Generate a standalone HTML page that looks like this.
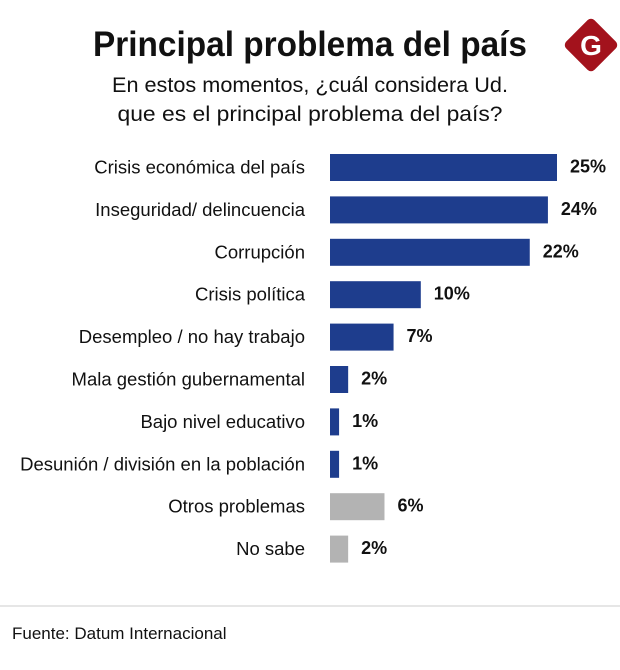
<!DOCTYPE html>
<html><head><meta charset="utf-8">
<style>
html,body{margin:0;padding:0;background:#fff;width:620px;height:670px;overflow:hidden}
svg{display:block;font-family:"Liberation Sans",sans-serif}
</style></head>
<body>
<svg id="chart" width="620" height="670" viewBox="0 0 620 670">
  <text x="310" y="56" text-anchor="middle" font-size="35" font-weight="bold" fill="#111" textLength="434" lengthAdjust="spacingAndGlyphs">Principal problema del país</text>
  <g>
    <rect x="571" y="25" width="40" height="40" rx="5" transform="rotate(45 591 45)" fill="#a3121c"/>
    <text x="591" y="55" text-anchor="middle" font-size="28" font-weight="bold" fill="#fff">G</text>
  </g>
  <text x="310" y="92" text-anchor="middle" font-size="21" fill="#111" textLength="396" lengthAdjust="spacingAndGlyphs">En estos momentos, ¿cuál considera Ud.</text>
  <text x="310" y="121" text-anchor="middle" font-size="21" fill="#111" textLength="385" lengthAdjust="spacingAndGlyphs">que es el principal  problema del país?</text>
  <g id="bars"></g>
  <line x1="0" y1="606" x2="620" y2="606" stroke="#ccc" stroke-width="1"/>
  <text x="12" y="639" font-size="17" fill="#111">Fuente: Datum Internacional</text>
</svg>
<script>
const categories = ["Crisis económica del país","Inseguridad/ delincuencia","Corrupción","Crisis política","Desempleo / no hay trabajo","Mala gestión gubernamental","Bajo nivel educativo","Desunión / división en la población","Otros problemas","No sabe"];
const values = [25,24,22,10,7,2,1,1,6,2];
const labels = ["25%","24%","22%","10%","7%","2%","1%","1%","6%","2%"];
const isOther = [false,false,false,false,false,false,false,false,true,true];

const NS = "http://www.w3.org/2000/svg";
const g = document.getElementById("bars");
const x0 = 330, pxPer = 9.08;
const xScale = v => x0 + v * pxPer;
const yScale = i => 154 + i * 42.4;
const bh = 27;
categories.forEach((c, i) => {
  const y = yScale(i);
  const r = document.createElementNS(NS, "rect");
  r.setAttribute("x", x0);
  r.setAttribute("y", y);
  r.setAttribute("width", Math.max(xScale(values[i]) - x0, 0));
  r.setAttribute("height", bh);
  r.setAttribute("fill", isOther[i] ? "#b3b3b3" : "#1e3d8d");
  
  
  g.appendChild(r);
  const t = document.createElementNS(NS, "text");
  t.setAttribute("x", 305);
  t.setAttribute("y", y + bh / 2 + 6);
  t.setAttribute("text-anchor", "end");
  t.setAttribute("font-size", "18.5");
  t.setAttribute("fill", "#111");
  t.textContent = c;
  
  
  g.appendChild(t);
  const v = document.createElementNS(NS, "text");
  v.setAttribute("x", xScale(values[i]) + 13);
  v.setAttribute("y", y + bh / 2 + 5);
  v.setAttribute("font-size", "18");
  v.setAttribute("font-weight", "bold");
  v.setAttribute("fill", "#111");
  v.textContent = labels[i];
  
  
  g.appendChild(v);
});
</script>
</body></html>
